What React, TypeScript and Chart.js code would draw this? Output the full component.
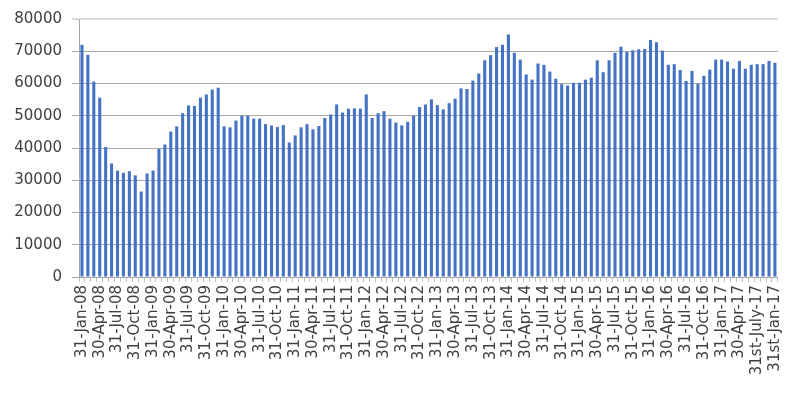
import React, { useEffect, useRef } from "react";
import { Chart, registerables } from "chart.js";

Chart.register(...registerables);

const tickLabels: string[] = [
  "31-Jan-08", "30-Apr-08", "31-Jul-08", "31-Oct-08",
  "31-Jan-09", "30-Apr-09", "31-Jul-09", "31-Oct-09",
  "31-Jan-10", "30-Apr-10", "31-Jul-10", "31-Oct-10",
  "31-Jan-11", "30-Apr-11", "31-Jul-11", "31-Oct-11",
  "31-Jan-12", "30-Apr-12", "31-Jul-12", "31-Oct-12",
  "31-Jan-13", "30-Apr-13", "31-Jul-13", "31-Oct-13",
  "31-Jan-14", "30-Apr-14", "31-Jul-14", "31-Oct-14",
  "31-Jan-15", "30-Apr-15", "31-Jul-15", "31-Oct-15",
  "31-Jan-16", "30-Apr-16", "31-Jul-16", "31-Oct-16",
  "31-Jan-17", "30-Apr-17", "31st-July-17", "31st-Jan-17",
];

const values: number[] = [
  72000, 68900, 60600, 55600, 40300, 35200, 33000, 32300, 32800, 31500,
  26500, 32100, 33000, 39700, 41100, 45100, 46700, 50800, 53200, 53000,
  55600, 56600, 58100, 58700, 46700, 46400, 48500, 50000, 50000, 49100,
  49100, 47400, 47000, 46500, 47100, 41700, 43900, 46400, 47400, 45800,
  46800, 49300, 50400, 53500, 51000, 52200, 52300, 52200, 56600, 49300,
  50800, 51400, 49100, 47900, 47000, 48100, 50000, 52700, 53500, 55100,
  53300, 52000, 53900, 55300, 58500, 58300, 60900, 63100, 67200, 68800,
  71300, 72000, 75200, 69500, 67400, 62800, 61200, 66200, 65800, 63700,
  61500, 59800, 59400, 60200, 60200, 61200, 61800, 67200, 63500, 67200,
  69500, 71400, 69800, 70300, 70600, 70700, 73500, 72800, 70200, 65800,
  66000, 64200, 60800, 63900, 59900, 62400, 64300, 67400, 67400, 66800,
  64600, 67000, 64600, 65800, 66000, 66000, 67000, 66400,
];

const categories: string[] = values.map((_, i) =>
  i % 3 === 0 ? tickLabels[i / 3] ?? "" : ""
);

const FONT = "'DejaVu Sans', sans-serif";

export default function App() {
  const ref = useRef<HTMLCanvasElement | null>(null);

  useEffect(() => {
    document.body.style.margin = "0";
    if (!ref.current) return;
    const chart = new Chart(ref.current, {
      type: "bar",
      data: {
        labels: categories,
        datasets: [
          {
            data: values,
            backgroundColor: "#4472C4",
            borderWidth: 0,
            barPercentage: 1,
            categoryPercentage: 0.52,
          },
        ],
      },
      options: {
        responsive: false,
        animation: false,
        devicePixelRatio: 1,
        layout: { padding: { top: 16, right: 18, left: 0, bottom: 0 } },
        plugins: { legend: { display: false }, tooltip: { enabled: false } },
        scales: {
          x: {
            offset: true,
            grid: {
              offset: true,
              drawOnChartArea: false,
              drawTicks: true,
              tickLength: 5,
              color: "#bfbfbf",
            },
            border: { color: "#a6a6a6" },
            ticks: {
              autoSkip: false,
              maxRotation: 90,
              minRotation: 90,
              padding: 3,
              color: "#404040",
              font: { family: FONT, size: 15 },
              callback: (_v: any, i: number) => categories[i],
            },
            afterFit: (s: any) => {
              s.height = 118;
            },
          },
          y: {
            min: 0,
            max: 80000,
            grid: {
              display: true,
              drawOnChartArea: true,
              color: ["#a6a6a6", "#a6a6a6", "#a6a6a6", "#a6a6a6", "#a6a6a6", "#a6a6a6", "#a6a6a6", "#a6a6a6", "#d9d9d9"],
              lineWidth: [1, 1, 1, 1, 1, 1, 1, 1, 2],
              tickLength: 7,
            },
            border: { color: "#a6a6a6" },
            ticks: {
              stepSize: 10000,
              padding: 10,
              color: "#404040",
              font: { family: FONT, size: 15 },
              callback: (v: any) => String(v),
            },
            afterFit: (s: any) => {
              s.width = 79;
            },
          },
        },
      },
    });
    return () => chart.destroy();
  }, []);

  return (
    <div style={{ width: 796, height: 395, position: "relative" }}>
      <canvas ref={ref} width={796} height={395} />
    </div>
  );
}
